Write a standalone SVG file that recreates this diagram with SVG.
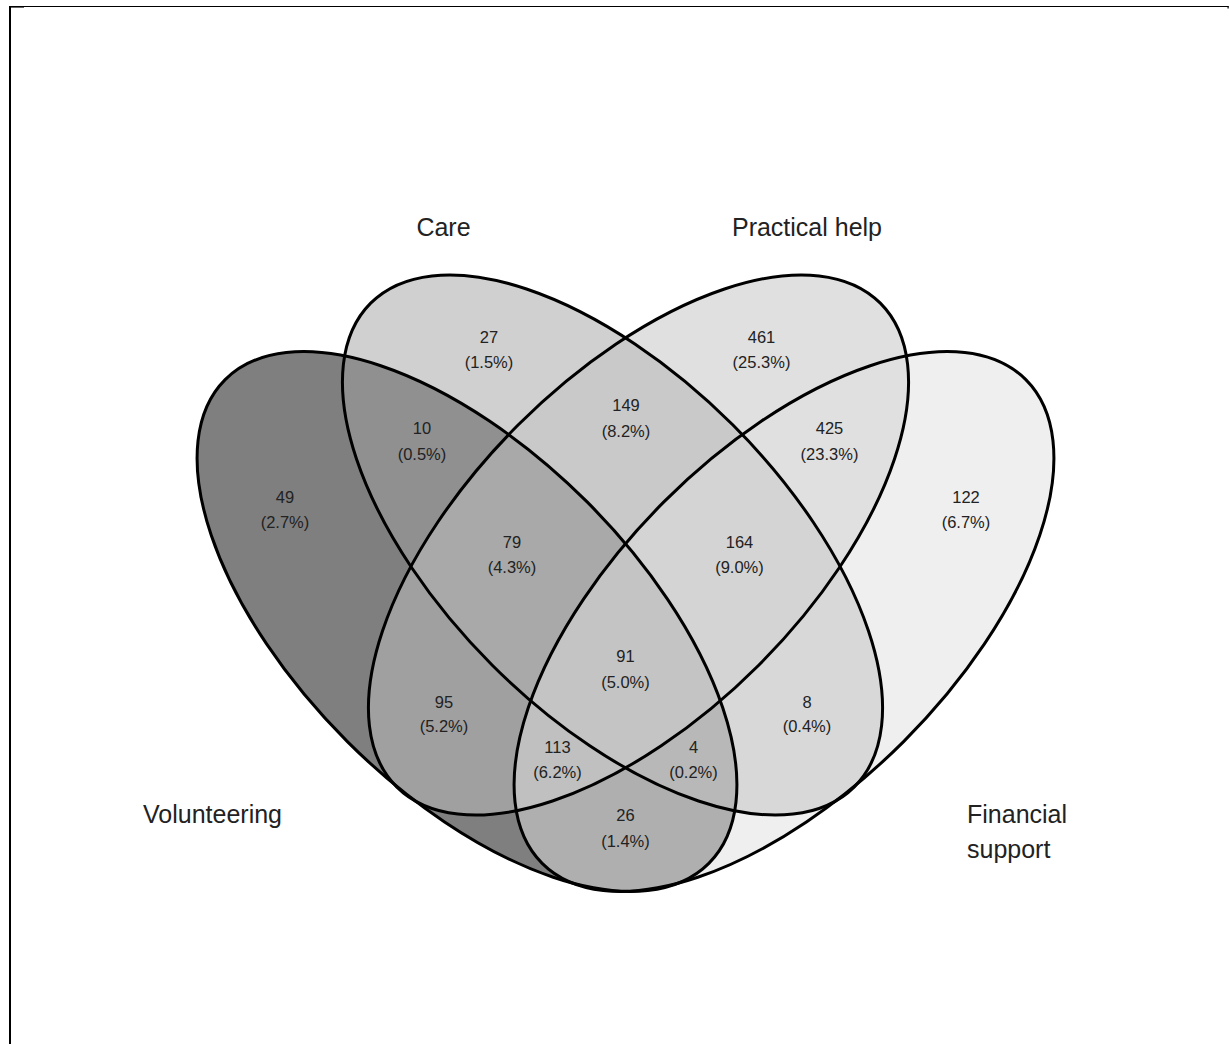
<svg xmlns="http://www.w3.org/2000/svg" width="1229" height="1044" viewBox="0 0 1229 1044">
<style>
.fillset{stroke:none;fill-opacity:0.5}
.outline{fill:none;stroke:#000;stroke-width:3}
.lbl{font-family:"Liberation Sans",Arial,sans-serif;font-size:25px;fill:#222}
.num{font-family:"Liberation Sans",Arial,sans-serif;font-size:16.5px;fill:#222;text-anchor:middle}
</style>
<rect x="0" y="0" width="1229" height="1044" fill="#fff"/>
<g id="frame">
<line x1="9" y1="6.5" x2="1228.5" y2="6.5" stroke="#000" stroke-width="1"/>
<line x1="10" y1="6" x2="10" y2="1044" stroke="#000" stroke-width="2"/>
<rect x="9" y="6" width="15" height="1.6" fill="#000"/>
<rect x="1227.5" y="6" width="1.2" height="2.5" fill="#000"/>
</g>
<g id="volunteering">
<ellipse class="fillset" cx="467" cy="621.5" rx="342" ry="169.5" transform="rotate(45 467 621.5)" fill="#000000"/>
<text class="lbl" x="143" y="823">Volunteering</text>
</g>
<g id="care">
<ellipse class="fillset" cx="612.5" cy="545" rx="342" ry="170" transform="rotate(45 612.5 545)" fill="#a1a1a1"/>
<text class="lbl" x="443.5" y="236" text-anchor="middle">Care</text>
</g>
<g id="practical-help">
<ellipse class="fillset" cx="638.5" cy="545" rx="342" ry="170" transform="rotate(-45 638.5 545)" fill="#c1c1c1"/>
<text class="lbl" x="807" y="236" text-anchor="middle">Practical help</text>
</g>
<g id="financial-support">
<ellipse class="fillset" cx="784" cy="621.5" rx="342" ry="169.5" transform="rotate(-45 784 621.5)" fill="#dfdfdf"/>
<text class="lbl" x="967" y="823">Financial</text>
<text class="lbl" x="967" y="858">support</text>
</g>
<g id="connectors">
<ellipse class="outline" cx="467" cy="621.5" rx="342" ry="169.5" transform="rotate(45 467 621.5)"/>
<ellipse class="outline" cx="612.5" cy="545" rx="342" ry="170" transform="rotate(45 612.5 545)"/>
<ellipse class="outline" cx="638.5" cy="545" rx="342" ry="170" transform="rotate(-45 638.5 545)"/>
<ellipse class="outline" cx="784" cy="621.5" rx="342" ry="169.5" transform="rotate(-45 784 621.5)"/>
</g>
<g id="counts">
<text class="num" x="285" y="502.5">49</text><text class="num" x="285" y="528">(2.7%)</text>
<text class="num" x="489" y="342.5">27</text><text class="num" x="489" y="368">(1.5%)</text>
<text class="num" x="761.5" y="342.5">461</text><text class="num" x="761.5" y="368">(25.3%)</text>
<text class="num" x="966" y="502.5">122</text><text class="num" x="966" y="528">(6.7%)</text>
<text class="num" x="422" y="434">10</text><text class="num" x="422" y="459.5">(0.5%)</text>
<text class="num" x="626" y="411">149</text><text class="num" x="626" y="436.5">(8.2%)</text>
<text class="num" x="829.5" y="434">425</text><text class="num" x="829.5" y="459.5">(23.3%)</text>
<text class="num" x="512" y="547.5">79</text><text class="num" x="512" y="573">(4.3%)</text>
<text class="num" x="739.5" y="547.5">164</text><text class="num" x="739.5" y="573">(9.0%)</text>
<text class="num" x="625.5" y="662">91</text><text class="num" x="625.5" y="687.5">(5.0%)</text>
<text class="num" x="444" y="707.5">95</text><text class="num" x="444" y="732">(5.2%)</text>
<text class="num" x="807" y="707.5">8</text><text class="num" x="807" y="732">(0.4%)</text>
<text class="num" x="557.5" y="752.5">113</text><text class="num" x="557.5" y="778">(6.2%)</text>
<text class="num" x="693.5" y="752.5">4</text><text class="num" x="693.5" y="778">(0.2%)</text>
<text class="num" x="625.5" y="821">26</text><text class="num" x="625.5" y="846.5">(1.4%)</text>
</g>
</svg>
